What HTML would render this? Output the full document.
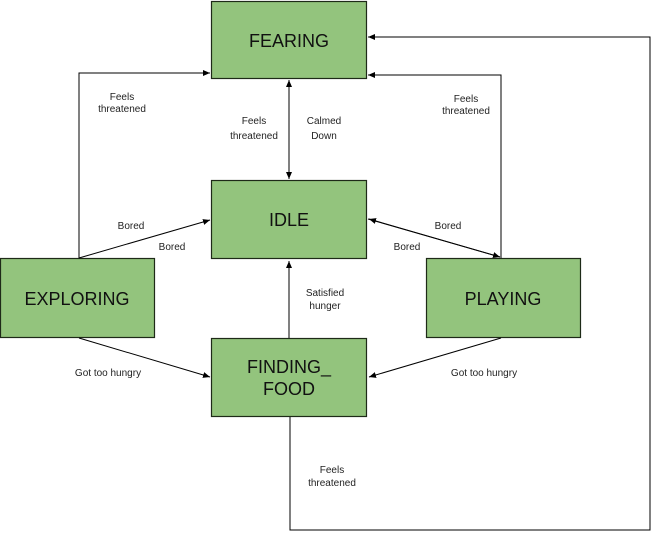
<!DOCTYPE html>
<html><head><meta charset="utf-8"><style>
body{margin:0;background:#fff;}
svg text{font-family:"Liberation Sans",Arial,sans-serif;}
</style></head><body>
<svg width="656" height="537" viewBox="0 0 656 537" xmlns="http://www.w3.org/2000/svg">
<defs><marker id="a" markerWidth="8" markerHeight="8" refX="7" refY="3" orient="auto" markerUnits="userSpaceOnUse"><path d="M0,0 L7,3 L0,6 z" fill="#000"/></marker></defs>
<g fill="#93c47d" stroke="#1e2a18" stroke-width="1.2">
<rect x="211.5" y="1.5" width="155" height="77"/>
<rect x="211.5" y="180.5" width="155" height="78"/>
<rect x="0.5" y="258.5" width="154" height="79"/>
<rect x="426.5" y="258.5" width="154" height="79"/>
<rect x="211.5" y="338.5" width="155" height="78"/>
</g>
<g font-size="18" fill="#111" text-anchor="middle">
<text x="289" y="47">FEARING</text>
<text x="289" y="226">IDLE</text>
<text x="77" y="305">EXPLORING</text>
<text x="503" y="305">PLAYING</text>
<text x="289" y="373">FINDING_</text>
<text x="289" y="395">FOOD</text>
</g>
<g stroke="#000" stroke-width="1" fill="none">
<polyline points="79,258 79,73 210,73" marker-end="url(#a)"/>
<polyline points="501,258 501,75 368,75" marker-end="url(#a)"/>
<polyline points="290,417 290,530 650,530 650,37 368,37" marker-end="url(#a)"/>
<line x1="289" y1="90" x2="289" y2="179" marker-end="url(#a)"/>
<line x1="289" y1="170" x2="289" y2="80" marker-end="url(#a)"/>
<line x1="79" y1="258" x2="210" y2="220" marker-end="url(#a)"/>
<line x1="368" y1="219" x2="500" y2="257" marker-end="url(#a)"/>
<line x1="500" y1="257" x2="369" y2="219" marker-end="url(#a)"/>
<line x1="289" y1="338" x2="289" y2="261" marker-end="url(#a)"/>
<line x1="79" y1="338" x2="210" y2="377" marker-end="url(#a)"/>
<line x1="501" y1="338" x2="369" y2="377" marker-end="url(#a)"/>
</g>
<g font-size="10" fill="#222" text-anchor="middle">
<text x="122" y="100">Feels</text><text x="122" y="112">threatened</text>
<text x="466" y="102">Feels</text><text x="466" y="114">threatened</text>
<text x="254" y="124">Feels</text><text x="254" y="139">threatened</text>
<text x="324" y="124">Calmed</text><text x="324" y="139">Down</text>
<text x="131" y="229">Bored</text>
<text x="172" y="250">Bored</text>
<text x="448" y="229">Bored</text>
<text x="407" y="250">Bored</text>
<text x="325" y="296">Satisfied</text><text x="325" y="309">hunger</text>
<text x="108" y="376">Got too hungry</text>
<text x="484" y="376">Got too hungry</text>
<text x="332" y="473">Feels</text><text x="332" y="486">threatened</text>
</g>
</svg>
</body></html>
